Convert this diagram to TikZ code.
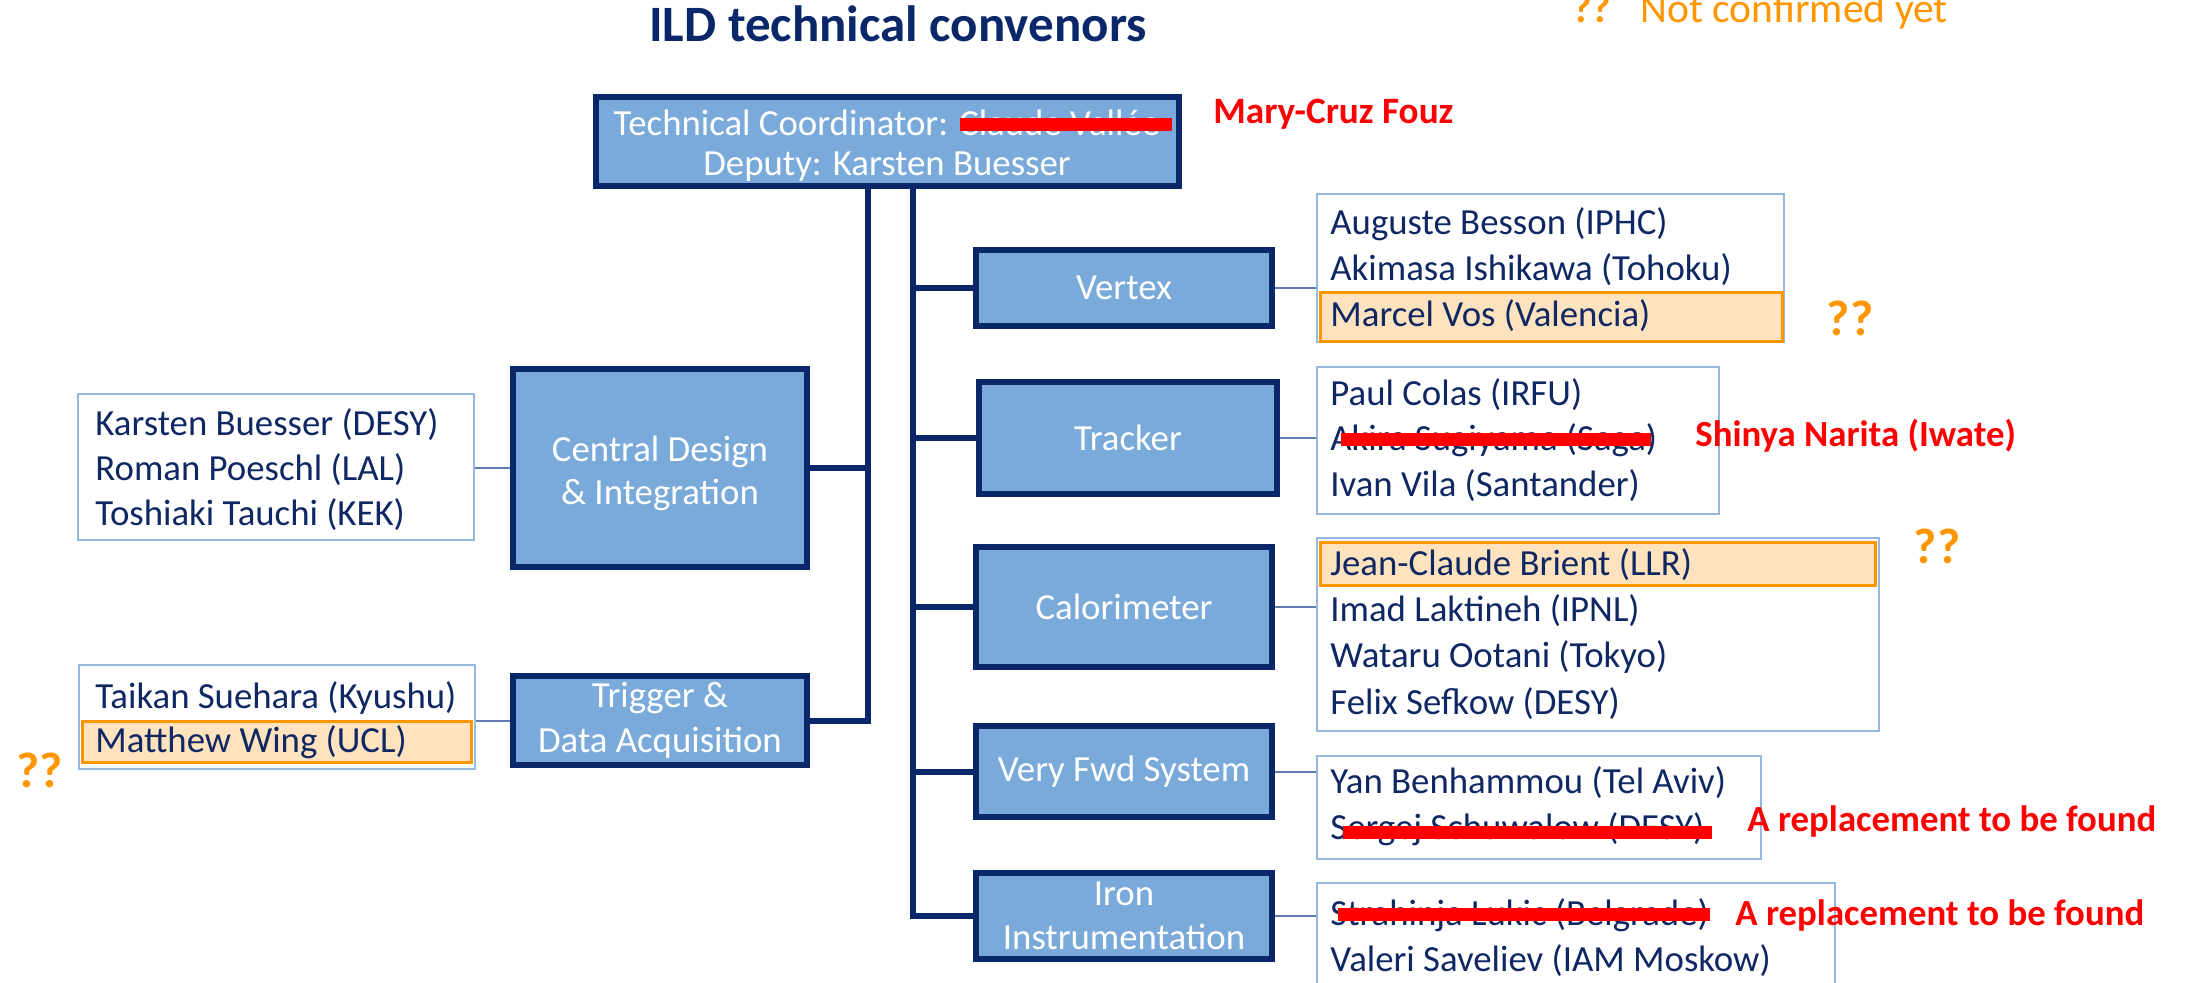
\documentclass[tikz,border=0pt]{standalone}
\usepackage{fontspec}
\setmainfont{Carlito}
\definecolor{navy}{RGB}{10,40,105}
\definecolor{boxblue}{RGB}{122,170,218}
\definecolor{pborder}{RGB}{150,185,225}
\definecolor{peach}{RGB}{255,226,190}
\definecolor{orng}{RGB}{255,150,0}
\definecolor{thinc}{RGB}{95,125,175}
\definecolor{namec}{RGB}{15,40,100}
\definecolor{redc}{RGB}{255,0,0}
\tikzset{
  cbox/.style={draw=navy, line width=3pt, fill=boxblue, text=white, inner sep=0pt, align=center,
    font=\fontsize{18.4}{21.5}\selectfont},
  ctext/.style={text=white, inner sep=0pt, align=center},
  pbox/.style={draw=pborder, line width=1pt, fill=white, inner sep=0pt},
  hlbox/.style={draw=orng, line width=1.5pt, fill=peach, inner sep=0pt},
  pname/.style={anchor=west, text=namec, inner sep=0pt, text height=0.75em, text depth=0.25em,
    font=\fontsize{18.4}{21.5}\selectfont},
  redtxt/.style={anchor=west, text=redc, inner sep=0pt, text height=0.75em, text depth=0.25em,
    font=\bfseries\fontsize{18.4}{21.5}\selectfont},
  qq/.style={text=orng, inner sep=0pt, font=\bfseries\fontsize{25}{29}\selectfont},
  strikebar/.style={draw=redc, line width=6.5pt},
  trunk/.style={draw=navy, line width=3pt},
  thinline/.style={draw=thinc, line width=1pt}
}
\begin{document}
\begin{tikzpicture}[x=0.5pt,y=-0.5pt]
\useasboundingbox (0,0) rectangle (2185,983);
\clip (0,0) rectangle (2185,983);

% title and legend
\node[anchor=base, text=navy, inner sep=0pt, font=\bfseries\fontsize{25.5}{29}\selectfont] (title) at (898,42) {ILD technical convenors};
\node[anchor=base west, text=orng, inner sep=0pt, font=\bfseries\fontsize{21}{24}\selectfont] (qlegend) at (1572,23) {??};
\node[anchor=base west, text=orng, inner sep=0pt, font=\fontsize{20.8}{24}\selectfont] (legend) at (1640,23) {Not confirmed yet};

% people boxes
\node[pbox, minimum width=198pt, minimum height=73pt] (pcd) at (276,467) {};
\node[pbox, minimum width=198pt, minimum height=51.5pt] (ptr) at (277,717) {};
\node[pbox, minimum width=233.5pt, minimum height=74pt] (pvx) at (1550.5,268) {};
\node[pbox, minimum width=201pt, minimum height=73.5pt] (ptk) at (1518,440.5) {};
\node[pbox, minimum width=281pt, minimum height=96.5pt] (pca) at (1598,634.5) {};
\node[pbox, minimum width=222pt, minimum height=51.5pt] (pvf) at (1538.5,807) {};
\node[pbox, minimum width=259pt, minimum height=63pt] (pir) at (1576,946) {};

% highlights
\node[hlbox, minimum width=194.5pt, minimum height=20.5pt] (hmw) at (277,742) {};
\node[hlbox, minimum width=231pt, minimum height=24.5pt] (hmv) at (1551.5,317) {};
\node[hlbox, minimum width=277.5pt, minimum height=21.5pt] (hjc) at (1598,564) {};

% names
\node[pname] (n1) at (95,431) {Karsten Buesser (DESY)};
\node[pname] (n2) at (95,476) {Roman Poeschl (LAL)};
\node[pname] (n3) at (95,521) {Toshiaki Tauchi (KEK)};
\node[pname] (n4) at (95,703) {Taikan Suehara (Kyushu)};
\node[pname] (n5) at (95,747) {Matthew Wing (UCL)};
\node[pname] (n6) at (1330,230) {Auguste Besson (IPHC)};
\node[pname] (n7) at (1330,276) {Akimasa Ishikawa (Tohoku)};
\node[pname] (n8) at (1330,322) {Marcel Vos (Valencia)};
\node[pname] (n9) at (1330,401) {Paul Colas (IRFU)};
\node[pname] (n10) at (1330,446) {Akira Sugiyama (Saga)};
\node[pname] (n11) at (1330,492) {Ivan Vila (Santander)};
\node[pname] (n12) at (1330,571) {Jean-Claude Brient (LLR)};
\node[pname] (n13) at (1330,617) {Imad Laktineh (IPNL)};
\node[pname] (n14) at (1330,663) {Wataru Ootani (Tokyo)};
\node[pname] (n15) at (1330,709) {Felix Sefkow (DESY)};
\node[pname] (n16) at (1330,788) {Yan Benhammou (Tel Aviv)};
\node[pname] (n17) at (1330,834) {Sergej Schuwalow (DESY)};
\node[pname] (n18) at (1330,920) {Strahinja Lukic (Belgrade)};
\node[pname] (n19) at (1330,966) {Valeri Saveliev (IAM Moskow)};

% colored boxes
\node[cbox, minimum width=291.5pt, minimum height=44.5pt] (top) at (887,142) {};
\node[ctext, font=\fontsize{18.4}{20}\selectfont] (toptext) at (887,146)
  {Technical Coordinator: Claude Vallée\\Deputy: Karsten Buesser};
\node[cbox, minimum width=147pt, minimum height=99pt] (cd) at (660,468) {};
\node[ctext, font=\fontsize{18.4}{21.5}\selectfont] (cdtext) at (660,473) {Central Design\\\& Integration};
\node[cbox, minimum width=147pt, minimum height=44.5pt, font=\fontsize{18.4}{22.5}\selectfont] (trig) at (660,720.5) {Trigger \&\\Data Acquisition};
\node[cbox, minimum width=148pt, minimum height=38pt] (vx) at (1124,288) {Vertex};
\node[cbox, minimum width=149pt, minimum height=56pt] (tk) at (1128,438) {Tracker};
\node[cbox, minimum width=148pt, minimum height=60pt] (ca) at (1124,607) {Calorimeter};
\node[cbox, minimum width=148pt, minimum height=45.5pt] (vf) at (1124,771.5) {Very Fwd System};
\node[cbox, minimum width=148pt, minimum height=43pt, font=\fontsize{18.4}{22}\selectfont] (ir) at (1124,916) {Iron\\Instrumentation};

% strike bars
\draw[strikebar] (960,125) -- (1172,125);
\draw[strikebar] (1341,440) -- (1651,440);
\draw[strikebar] (1343,832) -- (1712,832);
\draw[strikebar] (1338,914) -- (1710,914);

% red replacement notes
\node[anchor=base west, text=redc, inner sep=0pt, font=\bfseries\fontsize{18.6}{21.5}\selectfont] (mcf) at (1213,124) {Mary-Cruz Fouz};
\node[redtxt] (sn) at (1695,442) {Shinya Narita (Iwate)};
\node[redtxt] (ar1) at (1747,826) {A replacement to be found};
\node[redtxt] (ar2) at (1735,920) {A replacement to be found};

% question marks
\node[qq] (q1) at (1850,318) {??};
\node[qq] (q2) at (1937,546) {??};
\node[qq] (q3) at (40,770) {??};

% trunk connectors
\coordinate (jL) at (868,0);
\coordinate (jR) at (912.5,0);
\draw[trunk] (top.south -| jL) |- (cd.east);
\draw[trunk] (top.south -| jL) |- (trig.east);
\draw[trunk] (top.south -| jR) |- (vx.west);
\draw[trunk] (top.south -| jR) |- (tk.west);
\draw[trunk] (top.south -| jR) |- (ca.west);
\draw[trunk] (top.south -| jR) |- (vf.west);
\draw[trunk] (top.south -| jR) |- (ir.west);

% thin connectors to people boxes
\draw[thinline] (cd.west) -- (cd.west -| pcd.east);
\draw[thinline] (trig.west) -- (trig.west -| ptr.east);
\draw[thinline] (vx.east) -- (vx.east -| pvx.west);
\draw[thinline] (tk.east) -- (tk.east -| ptk.west);
\draw[thinline] (ca.east) -- (ca.east -| pca.west);
\draw[thinline] (vf.east) -- (vf.east -| pvf.west);
\draw[thinline] (ir.east) -- (ir.east -| pir.west);
\end{tikzpicture}
\end{document}
